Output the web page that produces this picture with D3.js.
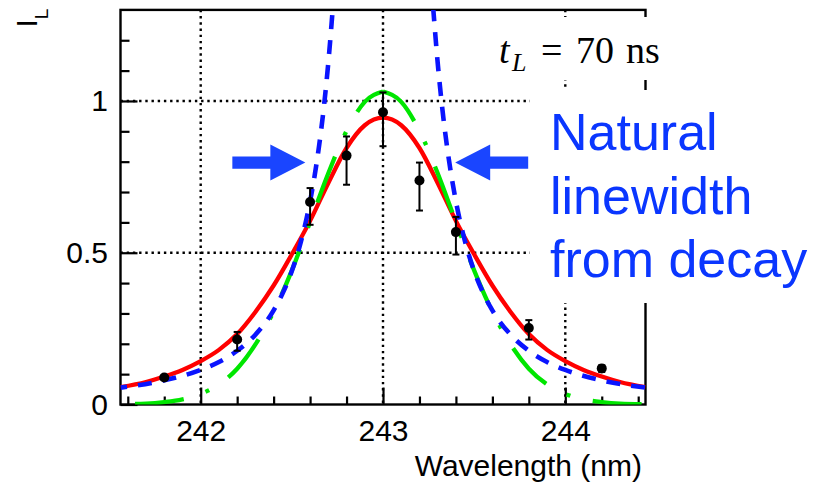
<!DOCTYPE html>
<html><head><meta charset="utf-8">
<script src="https://cdn.jsdelivr.net/npm/d3@7"></script>
<style>body{margin:0;background:#fff}svg{display:block}</style>
</head><body><svg id="c" width="817" height="488"></svg>
<script>
// ---------------- data ----------------
const wavelengthGrid = [241.56, 241.7, 241.8, 241.9, 242.0, 242.1, 242.2, 242.3, 242.4, 242.5, 242.6, 242.7, 242.8, 242.9,
  243.0, 243.1, 243.2, 243.3, 243.4, 243.5, 243.6, 243.7, 243.8, 243.9, 244.0, 244.1, 244.2, 244.3, 244.44];
const redFit = [0.057, 0.074, 0.092, 0.114, 0.143, 0.18, 0.232, 0.305, 0.392, 0.495, 0.605, 0.73, 0.845, 0.92,
  0.945, 0.92, 0.845, 0.73, 0.605, 0.495, 0.392, 0.305, 0.232, 0.18, 0.143, 0.114, 0.092, 0.074, 0.057];
const greenFit = [0.001, 0.003, 0.008, 0.017, 0.035, 0.066, 0.118, 0.198, 0.306, 0.442, 0.601, 0.762, 0.901, 0.997,
  1.031, 0.997, 0.901, 0.762, 0.601, 0.442, 0.306, 0.198, 0.118, 0.066, 0.035, 0.017, 0.008, 0.003, 0.001];
const blueLeftWavelength = [241.56, 241.8, 242.0, 242.1, 242.2, 242.3, 242.4, 242.45, 242.5, 242.55, 242.6, 242.625, 242.65, 242.675, 242.7, 242.725];
const blueLeftValue = [0.0555, 0.0795, 0.114, 0.140, 0.177, 0.230, 0.310, 0.367, 0.440, 0.537, 0.669, 0.754, 0.855, 0.977, 1.126, 1.309];
const blueRightWavelength = [243.275, 243.3, 243.325, 243.35, 243.375, 243.4, 243.45, 243.5, 243.55, 243.6, 243.7, 243.8, 243.9, 244.0, 244.2, 244.44];
const blueRightValue = [1.309, 1.126, 0.977, 0.855, 0.754, 0.669, 0.537, 0.440, 0.367, 0.310, 0.230, 0.177, 0.140, 0.114, 0.0795, 0.0555];

const pointWavelength = [241.8, 242.2, 242.6, 242.8, 243.0, 243.2, 243.4, 243.8, 244.2];
const pointValue = [0.089, 0.214, 0.667, 0.820, 0.963, 0.738, 0.568, 0.252, 0.119];
const pointErrLow = [0.008, 0.037, 0.075, 0.096, 0.112, 0.099, 0.074, 0.038, 0.012];
const pointErrHigh = [0.008, 0.025, 0.046, 0.063, 0.065, 0.059, 0.050, 0.026, 0.010];

const xMajorTicks = [242, 243, 244];
const xMinorTicks = [241.6, 241.8, 242.2, 242.4, 242.6, 242.8, 243.2, 243.4, 243.6, 243.8, 244.2, 244.4];
const yMajorTicks = [0, 0.5, 1];
const yMinorTicks = [0.1, 0.2, 0.3, 0.4, 0.6, 0.7, 0.8, 0.9, 1.1, 1.2];
const yTickLabels = ["0", "0.5", "1"];
const xGrid = [242, 243, 244];
const yGrid = [0.5, 1];
const arrowTips = [[242.574, 0.797, 1], [243.396, 0.797, -1]]; // wavelength, value, direction
const annotationLines = ["Natural", "linewidth", "from decay"];

// ---------------- layout ----------------
const svg = d3.select("#c");
const SANS = "'Liberation Sans', Arial, Helvetica, sans-serif";
const SERIF = "'Liberation Serif', 'Times New Roman', serif";
const x = d3.scaleLinear().domain([241.56, 244.44]).range([120.5, 645.5]);
const y = d3.scaleLinear().domain([0, 1.3]).range([404.5, 9.9]);
const [x0, x1] = x.range(), [yb, yt] = y.range();

svg.append("defs").append("clipPath").attr("id", "plot")
  .append("rect").attr("x", x0).attr("y", yt).attr("width", x1 - x0).attr("height", yb - yt);

// grid
const grid = svg.append("g").attr("stroke", "#000").attr("stroke-width", 2.4).attr("stroke-dasharray", "2.4 3.8");
grid.selectAll(".gx").data(xGrid).join("line")
  .attr("x1", d => x(d)).attr("x2", d => x(d)).attr("y1", yt).attr("y2", yb);
grid.selectAll(".gy").data(yGrid).join("line")
  .attr("y1", d => y(d)).attr("y2", d => y(d)).attr("x1", x0).attr("x2", x1);

// axes
function styleAxis(g) {
  g.select(".domain").remove();
  g.selectAll("line").attr("stroke", "#000").attr("stroke-width", 2.2);
  g.selectAll("text").attr("fill", "#000").style("font-family", SANS).style("font-size", "30px");
}
svg.append("g").attr("transform", `translate(0,${yb})`)
  .call(d3.axisBottom(x).tickValues(xMinorTicks).tickSizeInner(-8).tickSizeOuter(0).tickFormat(""))
  .call(styleAxis);
svg.append("g").attr("transform", `translate(0,${yb})`)
  .call(d3.axisBottom(x).tickValues(xMajorTicks).tickSizeInner(-17).tickSizeOuter(0).tickPadding(15).tickFormat(d3.format("d")))
  .call(styleAxis);
svg.append("g").attr("transform", `translate(${x0},0)`)
  .call(d3.axisLeft(y).tickValues(yMinorTicks).tickSizeInner(-9).tickSizeOuter(0).tickFormat(""))
  .call(styleAxis);
svg.append("g").attr("transform", `translate(${x0},0)`)
  .call(d3.axisLeft(y).tickValues(yMajorTicks).tickSizeInner(-17).tickSizeOuter(0).tickPadding(12.5)
    .tickFormat((d, i) => yTickLabels[i]))
  .call(styleAxis);

// frame
svg.append("rect").attr("x", x0).attr("y", yt).attr("width", x1 - x0).attr("height", yb - yt)
  .attr("fill", "none").attr("stroke", "#000").attr("stroke-width", 2.4);

// curves
const curves = svg.append("g").attr("clip-path", "url(#plot)").attr("fill", "none");
const line = d3.line().x(d => x(d[0])).y(d => y(d[1])).curve(d3.curveMonotoneX);

curves.append("path").datum(wavelengthGrid.map((w, i) => [w, redFit[i]]))
  .attr("d", line).attr("stroke", "#ff0000").attr("stroke-width", 4.3);

// green: long-dash / dot pattern, with the long dash centred over the peak
const greenPts = wavelengthGrid.map((w, i) => [w, greenFit[i]]);
const peakIdx = greenFit.indexOf(d3.max(greenFit));
const gL = curves.append("path").datum(greenPts.slice(0, peakIdx + 1))
  .attr("d", line).attr("stroke", "#00e600").attr("stroke-width", 4.3);
const gR = curves.append("path").datum(greenPts.slice(peakIdx))
  .attr("d", line).attr("stroke", "#00e600").attr("stroke-width", 4.3);
const GP = [49, 23, 4, 23];
const Lg = gL.node().getTotalLength();
gL.attr("stroke-dasharray", GP.join(" ")).attr("stroke-dashoffset", ((34 - Lg) % 99 + 99) % 99);
let rd = [44.5]; for (let k = 0; k < 20; k++) rd.push(23, 4, 23, 49);
gR.attr("stroke-dasharray", rd.join(" "));

// blue dashed
const bL = curves.append("path").datum(blueLeftWavelength.map((w, i) => [w, blueLeftValue[i]]))
  .attr("d", line).attr("stroke", "#0a14ff").attr("stroke-width", 4.6).attr("stroke-dasharray", "14 11");
const Lb = bL.node().getTotalLength();
bL.attr("stroke-dashoffset", ((22 - Lb) % 25 + 25) % 25);
curves.append("path").datum(blueRightWavelength.map((w, i) => [w, blueRightValue[i]]))
  .attr("d", line).attr("stroke", "#0a14ff").attr("stroke-width", 4.6).attr("stroke-dasharray", "14 11");

// data points with asymmetric error bars
const pts = svg.append("g").attr("stroke", "#000").attr("stroke-width", 2);
pointWavelength.forEach((w, i) => {
  const cx = x(w), lo = y(pointValue[i] - pointErrLow[i]), hi = y(pointValue[i] + pointErrHigh[i]);
  pts.append("line").attr("x1", cx).attr("x2", cx).attr("y1", lo).attr("y2", hi);
  pts.append("line").attr("x1", cx - 3.5).attr("x2", cx + 3.5).attr("y1", lo).attr("y2", lo);
  pts.append("line").attr("x1", cx - 3.5).attr("x2", cx + 3.5).attr("y1", hi).attr("y2", hi);
  pts.append("circle").attr("cx", cx).attr("cy", y(pointValue[i])).attr("r", 5).attr("fill", "#000").attr("stroke", "none");
});

// annotation backgrounds
svg.append("rect").attr("x", 490).attr("y", 17).attr("width", 180).attr("height", 63).attr("fill", "#fff");
svg.append("rect").attr("x", 530).attr("y", 90).attr("width", 287).attr("height", 213).attr("fill", "#fff");

// arrows
arrowTips.forEach(([w, v, dir]) => {
  const tx = x(w), ty = y(v);
  const headL = 35, headH = 18, tailL = 38, tailH = 6.2;
  const b = tx - dir * headL, e = b - dir * tailL;
  const p = [[e, ty - tailH], [b, ty - tailH], [b, ty - headH], [tx, ty], [b, ty + headH], [b, ty + tailH], [e, ty + tailH]];
  svg.append("polygon").attr("points", p.map(q => q.join(",")).join(" ")).attr("fill", "#1a45ff");
});

// blue annotation text
const ann = svg.append("text").attr("fill", "#0a36ff").style("font-family", SANS).style("font-size", "52px");
annotationLines.forEach((t, i) => ann.append("tspan").attr("x", 550).attr("y", 150 + i * 63.5).text(t));

// t_L = 70 ns
const tl = svg.append("text").style("font-family", SERIF).style("font-size", "38px").attr("fill", "#000");
tl.append("tspan").attr("x", 499).attr("y", 63).style("font-style", "italic").text("t");
tl.append("tspan").attr("x", 512).attr("y", 71).style("font-style", "italic").style("font-size", "26px").text("L");
tl.append("tspan").attr("x", 541).attr("y", 63).text("=");
tl.append("tspan").attr("x", 576).attr("y", 63).text("70");
tl.append("tspan").attr("x", 626).attr("y", 63).text("ns");

// axis titles
const yt1 = svg.append("text").attr("transform", "translate(36.7,8.7) rotate(-90)")
  .attr("text-anchor", "end").style("font-family", SANS).attr("fill", "#000");
yt1.append("tspan").style("font-size", "30px").text("I");
yt1.append("tspan").style("font-size", "19px").attr("dy", 11).text("L");

svg.append("text").attr("x", 642).attr("y", 476).attr("text-anchor", "end")
  .style("font-family", SANS).style("font-size", "30px").attr("fill", "#000").text("Wavelength (nm)");
</script></body></html>
